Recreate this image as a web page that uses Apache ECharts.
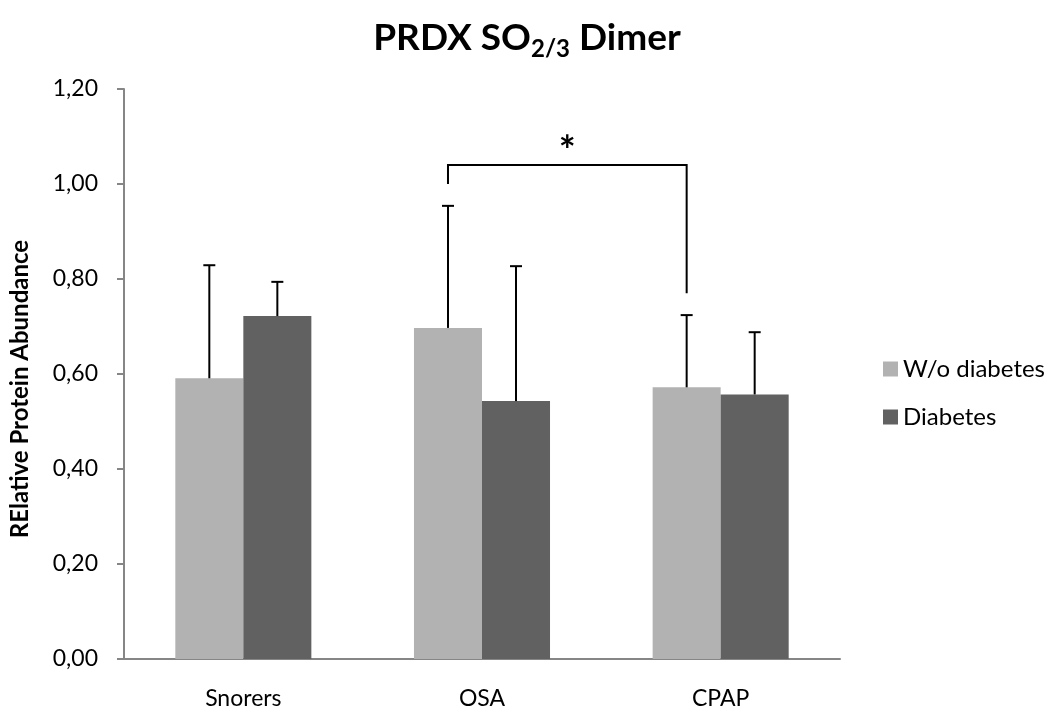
<!DOCTYPE html>
<html>
<head>
<meta charset="utf-8">
<script src="https://cdn.jsdelivr.net/npm/echarts@6/dist/echarts.min.js"></script>
<style>html,body{margin:0;padding:0;background:#fff}#c{width:1054px;height:706px}</style>
</head>
<body>
<div id="c"></div>
<script>
const categories = ['Snorers', 'OSA', 'CPAP'];
const seriesNames = ['W/o diabetes', 'Diabetes'];
const noDiabetes = [0.591, 0.697, 0.572];
const diabetes = [0.722, 0.543, 0.557];
const noDiabetesErrTop = [0.829, 0.954, 0.724];
const diabetesErrTop = [0.794, 0.827, 0.688];
const yTicks = [0, 0.2, 0.4, 0.6, 0.8, 1.0, 1.2];
// significance bracket: [from category, to category, left foot, top, right foot]
const bracket = [[1, 2, 1.00, 1.04, 0.77]];
const bracketLabel = '*';

const FONT = 'Lato';
const colors = ['#b2b2b2', '#616161'];
const CAT_GAP = 0.43;

function errSeries(vals, tops, idx) {
  return {
    type: 'custom',
    z: 5,
    data: vals.map((v, i) => [i, v, tops[i]]),
    renderItem: function (params, api) {
      const band = api.size([1, 0])[0];
      const bw = band * (1 - CAT_GAP) / 2;
      const off = idx === 0 ? -bw / 2 : bw / 2;
      const p0 = api.coord([api.value(0), api.value(1)]);
      const p1 = api.coord([api.value(0), api.value(2)]);
      const x = p0[0] + off;
      return {
        type: 'group',
        children: [
          { type: 'line', shape: { x1: x, y1: p0[1], x2: x, y2: p1[1] }, style: { stroke: '#000', lineWidth: 2 } },
          { type: 'line', shape: { x1: x - 6, y1: p1[1], x2: x + 6, y2: p1[1] }, style: { stroke: '#000', lineWidth: 2 } }
        ]
      };
    }
  };
}

const chart = echarts.init(document.getElementById('c'), null, { renderer: 'canvas' });
chart.setOption({
  animation: false,
  backgroundColor: '#fff',
  title: {
    text: 'PRDX SO{sub|2/3} Dimer',
    left: 'center',
    top: 10,
    textStyle: {
      fontFamily: FONT, fontWeight: 'bold', fontSize: 37, color: '#000',
      rich: {
        sub: { fontFamily: FONT, fontWeight: 'bold', fontSize: 24, color: '#000', padding: [22, 0, 0, 0] }
      }
    }
  },
  legend: {
    orient: 'vertical',
    left: 883,
    top: 356,
    padding: 0,
    itemWidth: 15,
    itemHeight: 15,
    itemGap: 22,
    icon: 'rect',
    textStyle: { fontFamily: FONT, fontSize: 24, color: '#000', lineHeight: 26 },
    data: seriesNames
  },
  grid: { left: 124, right: 214, top: 89, bottom: 47, containLabel: false, outerBoundsMode: 'none' },
  xAxis: {
    type: 'category',
    data: categories,
    axisLine: { lineStyle: { color: '#868686', width: 2 } },
    axisTick: { show: false },
    axisLabel: { fontFamily: FONT, fontSize: 23, color: '#000', margin: 28 }
  },
  yAxis: {
    type: 'value',
    min: 0, max: 1.2, interval: 0.2,
    splitLine: { show: false },
    axisLine: { show: true, lineStyle: { color: '#868686', width: 2 } },
    axisTick: { show: true, length: 7, lineStyle: { color: '#868686', width: 2 } },
    axisLabel: {
      fontFamily: FONT, fontSize: 23, color: '#000', margin: 26,
      formatter: v => v.toFixed(2).replace('.', ',')
    }
  },
  graphic: [{
    type: 'text',
    x: 20, y: 389,
    rotation: Math.PI / 2,
    style: { text: 'RElative Protein Abundance', font: 'bold 24px ' + FONT, fill: '#000', align: 'center', verticalAlign: 'middle' }
  }],
  series: [
    { name: seriesNames[0], type: 'bar', data: noDiabetes, barGap: '0%', barCategoryGap: '43%', itemStyle: { color: colors[0] } },
    { name: seriesNames[1], type: 'bar', data: diabetes, barGap: '0%', barCategoryGap: '43%', itemStyle: { color: colors[1] } },
    errSeries(noDiabetes, noDiabetesErrTop, 0),
    errSeries(diabetes, diabetesErrTop, 1),
    {
      type: 'custom',
      z: 6,
      data: bracket,
      renderItem: function (params, api) {
        const band = api.size([1, 0])[0];
        const bw = band * (1 - CAT_GAP) / 2;
        const l = api.coord([api.value(0), api.value(2)]);
        const t = api.coord([api.value(0), api.value(3)]);
        const r = api.coord([api.value(1), api.value(4)]);
        const xl = l[0] - bw / 2, xr = r[0] - bw / 2;
        return {
          type: 'group',
          children: [
            { type: 'polyline', shape: { points: [[xl, l[1]], [xl, t[1]], [xr, t[1]], [xr, r[1]]] }, style: { stroke: '#000', lineWidth: 2, fill: null } },
            { type: 'text', x: (xl + xr) / 2, y: t[1] - 33, style: { text: bracketLabel, font: 'bold 40px ' + FONT, fill: '#000', align: 'center', verticalAlign: 'top' } }
          ]
        };
      }
    }
  ]
});
</script>
</body>
</html>
